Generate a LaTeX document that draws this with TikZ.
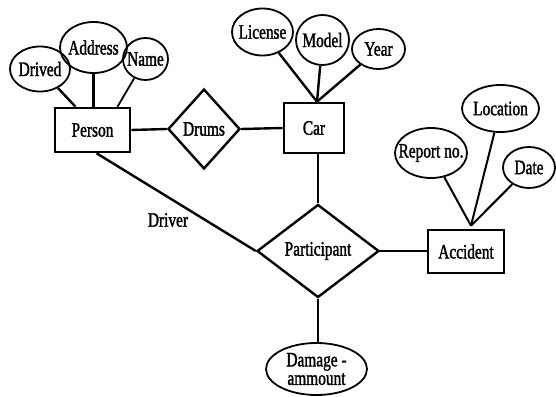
\documentclass[tikz,border=0pt]{standalone}
\usepackage{fontspec}
\setmainfont[FakeStretch=0.75,FakeBold=1.5]{Liberation Serif}
\usetikzlibrary{shapes.geometric,calc}
\begin{document}
\begin{tikzpicture}[x=1pt,y=-1pt,
  every node/.style={font=\fontsize{20.5}{18.5}\selectfont, inner sep=0pt},
  entity/.style={draw, line width=2.6pt},
  attr/.style={draw, ellipse, line width=1.8pt},
  rel/.style={draw, diamond, line width=2.4pt},
  link/.style={line width=2.4pt}]
\useasboundingbox (0,0) rectangle (556,396);

% entities
\node[entity, minimum width=75pt, minimum height=44pt] (person) at (92.5,130) {Person};
\node[entity, minimum width=60pt, minimum height=50pt] (car) at (314,128) {Car};
\node[entity, minimum width=76pt, minimum height=43pt] (accident) at (466,251.5) {Accident};

% relationships
\node[rel, minimum width=72pt, minimum height=80pt] (drums) at (204,129) {Drums};
\node[rel, minimum width=122pt, minimum height=93pt] (part) at (318,251) {Participant};

% attributes
\node[attr, minimum width=60pt, minimum height=45pt, label=center:Drived] (drived) at (40,69) {};
\node[attr, minimum width=67pt, minimum height=51pt, label=center:Address] (address) at (93.5,47.5) {};
\node[attr, minimum width=45pt, minimum height=42pt, label=center:Name] (name) at (145.5,59) {};
\node[attr, minimum width=61pt, minimum height=47pt, label=center:License] (license) at (262.5,32) {};
\node[attr, minimum width=53pt, minimum height=50pt, label=center:Model] (model) at (322.5,40) {};
\node[attr, minimum width=53pt, minimum height=40pt, label=center:Year] (year) at (378.5,49) {};
\node[attr, minimum width=72pt, minimum height=50pt, label=center:{Report no.}] (report) at (431,153) {};
\node[attr, minimum width=77pt, minimum height=47pt, label=center:Location] (location) at (500.5,108.5) {};
\node[attr, minimum width=52pt, minimum height=41pt, label=center:Date] (date) at (529,167.5) {};
\node[attr, minimum width=101pt, minimum height=52pt,
      label={[align=center]center:Damage -\\ammount}] (damage) at (316.5,369) {};

% role label
\node (driverlbl) at (168,220) {Driver};

% meeting points of attribute lines
\coordinate (carTop) at ($(car.north)+(3,0)$);
\coordinate (accTop) at ($(accident.north)+(5,-3)$);

% person attributes
\draw[link] (drived) -- ($(person.north)+(-17,0)$);
\draw[link] (address) -- (address.south |- person.north);
\draw[link, line width=1.8pt] (name) -- ($(person.north)+(25,0)$);

% car attributes
\draw[link] (license) -- (carTop);
\draw[link] (model) -- (carTop);
\draw[link] (year) -- (carTop);

% accident attributes
\draw[link, line width=2pt] (report) -- (accTop);
\draw[link, line width=2pt] (location) -- (accTop);
\draw[link, line width=2pt] (date) -- (accTop);

% relationship links
\draw[link] (person.east) -- (drums.west);
\draw[link] (drums.east) -- (car.west);
\draw[link] (part.north) -- (part.north |- car.south);
\draw[link] (person.-80) -- (part.west);
\draw[link] (part.east) -- (part.east -| accident.west);
\draw[link] (part.south) -- (part.south |- damage.north);
\end{tikzpicture}
\end{document}
